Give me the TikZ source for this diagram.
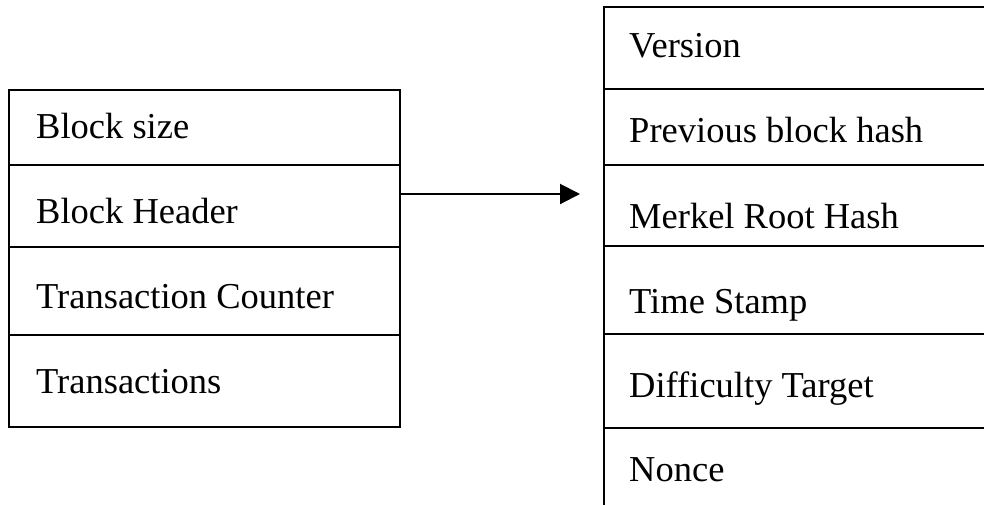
\documentclass[tikz,border=0pt]{standalone}
\usepackage{fontspec}
\setmainfont{Liberation Serif}
\usetikzlibrary{arrows.meta}
\begin{document}
\begin{tikzpicture}[x=1pt, y=-1pt,
  field/.style={draw, line width=2.7pt, rectangle, anchor=north west,
    outer sep=0pt, inner sep=0pt},
  leftfield/.style={field, minimum width=391pt},
  rightfield/.style={field, minimum width=400pt},
  caption/.style={anchor=base west, inner sep=0pt, yshift=-1.5pt,
    font=\fontsize{36.5}{44}\selectfont},
  link/.style={line width=2pt, -{Triangle[length=20pt,width=20pt]}}]
  \clip (0,0) rectangle (984,504);
  % block structure
  \node[leftfield, minimum height=75pt] (bsize) at (9,90) {};
  \node[leftfield, minimum height=82pt] (bheader) at (9,165) {};
  \node[leftfield, minimum height=88pt] (tcount) at (9,247) {};
  \node[leftfield, minimum height=92pt] (tx) at (9,335) {};
  \node[caption] (bsize-t) at (36,136.7) {Block size};
  \node[caption] (bheader-t) at (36,221.7) {Block Header};
  \node[caption] (tcount-t) at (36,306.7) {Transaction Counter};
  \node[caption] (tx-t) at (36,391.7) {Transactions};
  % header fields
  \node[rightfield, minimum height=82pt] (version) at (604,7) {};
  \node[rightfield, minimum height=76pt] (prev) at (604,89) {};
  \node[rightfield, minimum height=81pt] (merkle) at (604,165) {};
  \node[rightfield, minimum height=88pt] (time) at (604,246) {};
  \node[rightfield, minimum height=94pt] (diff) at (604,334) {};
  \node[rightfield, minimum height=90pt] (nonce) at (604,428) {};
  \node[caption] (version-t) at (629,56) {Version};
  \node[caption] (prev-t) at (629,141) {Previous block hash};
  \node[caption] (merkle-t) at (629,226.7) {Merkel Root Hash};
  \node[caption] (time-t) at (629,311.7) {Time Stamp};
  \node[caption] (diff-t) at (629,395.7) {Difficulty Target};
  \node[caption] (nonce-t) at (629,480) {Nonce};
  % header expands into its fields
  \draw[link, shorten >=24pt] (bheader.east |- 0,194) -- (merkle.west |- 0,194);
\end{tikzpicture}
\end{document}
